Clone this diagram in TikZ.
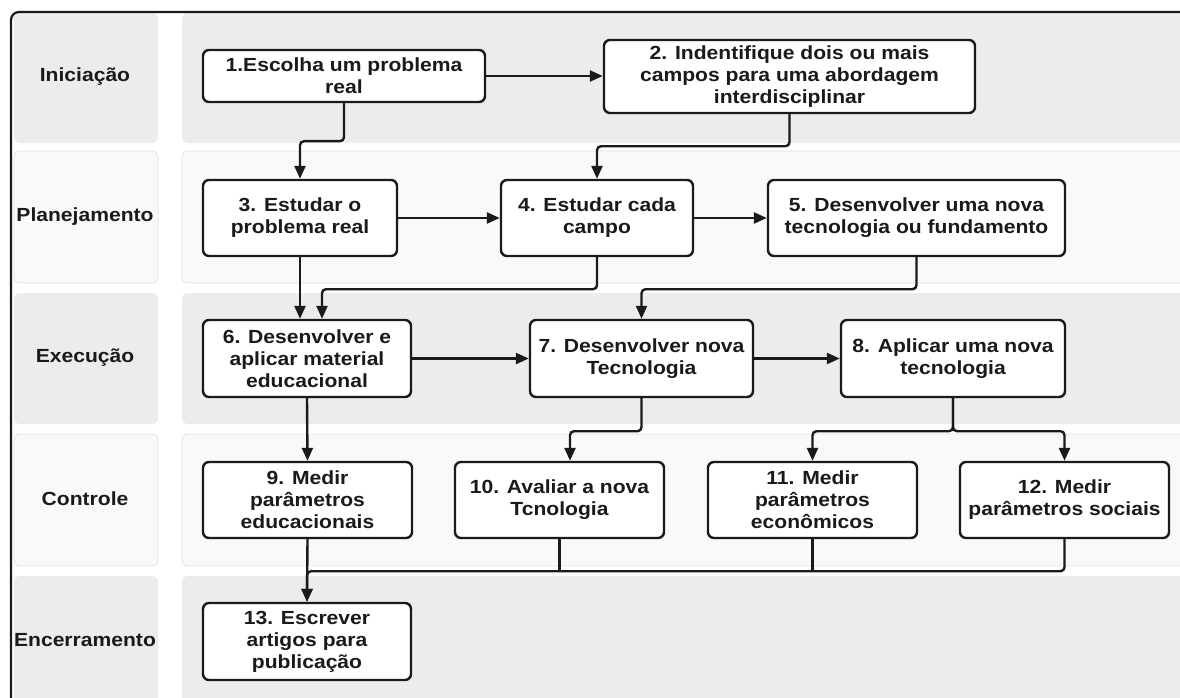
\documentclass[tikz,border=0pt]{standalone}
\usepackage{fontspec}
\setmainfont{Liberation Sans}[FakeStretch=1.11]
\usetikzlibrary{arrows.meta}

\definecolor{laneDark}{HTML}{ECECEC}
\definecolor{laneLight}{HTML}{F9F9F9}
\definecolor{laneEdge}{HTML}{E2E2E2}
\definecolor{ink}{HTML}{1A1A1A}

\tikzset{
  txt/.style={font=\fontsize{19}{22}\selectfont\bfseries, text=ink, align=center, inner sep=0pt},
  stepbox/.style={txt, draw=ink, fill=white, line width=2.4pt, rounded corners=6pt},
  lanelabel/.style={txt},
  darklane/.style={fill=laneDark, rounded corners=6pt},
  lightlane/.style={fill=laneLight, draw=laneEdge, line width=0.8pt, rounded corners=6pt},
  link/.style={draw=ink, line width=2.4pt, rounded corners=4pt},
  arr/.style={link, -{Triangle[length=13pt,width=11pt]}},
  frame/.style={draw=ink, line width=2.2pt, rounded corners=8pt}
}

\begin{document}
\begin{tikzpicture}[x=1pt, y=-1pt]
\useasboundingbox (0,0) rectangle (1180,698);
\clip (0,0) rectangle (1180,698);
\fill[white] (0,0) rectangle (1180,698);

% swimlane backgrounds: label column and working area
\fill[darklane]  (14,13)  rectangle (158,143);
\fill[darklane]  (182,13) rectangle (1195,143);
\filldraw[lightlane] (14,151)  rectangle (158,283);
\filldraw[lightlane] (182,151) rectangle (1195,283);
\fill[darklane]  (14,293)  rectangle (158,424);
\fill[darklane]  (182,293) rectangle (1195,424);
\filldraw[lightlane] (14,434)  rectangle (158,566);
\filldraw[lightlane] (182,434) rectangle (1195,566);
\fill[darklane]  (14,576)  rectangle (158,720);
\fill[darklane]  (182,576) rectangle (1195,720);

% outer frame
\draw[frame] (11,12) rectangle (1190,720);

% lane titles
\node[lanelabel] (l1) at (85,77)  {Iniciação};
\node[lanelabel] (l2) at (85,217) {Planejamento};
\node[lanelabel] (l3) at (85,358) {Execução};
\node[lanelabel] (l4) at (85,499) {Controle};
\node[lanelabel] (l5) at (85,640) {Encerramento};

% steps
\node[stepbox, minimum width=282pt, minimum height=52pt] (n1) at (344,76)
  {1.Escolha um problema\\real};
\node[stepbox, minimum width=371pt, minimum height=73pt] (n2) at (789.5,76.5)
  {2. Indentifique dois ou mais\\campos para uma abordagem\\interdisciplinar};
\node[stepbox, minimum width=194pt, minimum height=76pt] (n3) at (300,218)
  {3. Estudar o\\problema real};
\node[stepbox, minimum width=192pt, minimum height=76pt] (n4) at (597,218)
  {4. Estudar cada\\campo};
\node[stepbox, minimum width=297pt, minimum height=76pt] (n5) at (916.5,218)
  {5. Desenvolver uma nova\\tecnologia ou fundamento};
\node[stepbox, minimum width=208pt, minimum height=77pt] (n6) at (307,358.5)
  {6. Desenvolver e\\aplicar material\\educacional};
\node[stepbox, minimum width=223pt, minimum height=77pt] (n7) at (641.5,358.5)
  {7. Desenvolver nova\\Tecnologia};
\node[stepbox, minimum width=224pt, minimum height=77pt] (n8) at (953,358.5)
  {8. Aplicar uma nova\\tecnologia};
\node[stepbox, minimum width=209pt, minimum height=76pt] (n9) at (307.5,500)
  {9. Medir\\parâmetros\\educacionais};
\node[stepbox, minimum width=209pt, minimum height=76pt] (n10) at (559.5,500)
  {10. Avaliar a nova\\Tcnologia};
\node[stepbox, minimum width=209pt, minimum height=76pt] (n11) at (812.5,500)
  {11. Medir\\parâmetros\\econômicos};
\node[stepbox, minimum width=209pt, minimum height=76pt] (n12) at (1064.5,500)
  {12. Medir\\parâmetros sociais};
\node[stepbox, minimum width=208pt, minimum height=77pt] (n13) at (307,641.5)
  {13. Escrever\\artigos para\\publicação};

% connectors
\draw[arr] (n1.east) -- (n2.west |- n1.east);
\draw[arr] (n1.south) -- ++(0,38) -| (n3.north);
\draw[arr] (n2.south) -- ++(0,32) -| (n4.north);
\draw[arr] (n3.east) -- (n4.west);
\draw[arr] (n4.east) -- (n5.west);
\draw[arr] (n3.south) -- (n3.south |- n6.north);
\draw[arr] (n4.south) -- ++(0,32) -| ([xshift=15pt]n6.north);
\draw[arr] (n5.south) -- ++(0,32) -| (n7.north);
\draw[arr] (n6.east) -- (n7.west);
\draw[arr] (n7.east) -- (n8.west);
\draw[arr] (n6.south) -- (n9.north);
\draw[arr] (n7.south) -- ++(0,33) -| ([xshift=10.5pt]n10.north);
\draw[arr] (n8.south) -- ++(0,33) -| (n11.north);
\draw[arr] (n8.south) -- ++(0,33) -| (n12.north);
\draw[arr] (n9.south) -- (n13.north);
\draw[arr] (n12.south) -- ++(0,32) -| (n13.north);
\draw[link] (n10.south) -- ++(0,32);
\draw[link] (n11.south) -- ++(0,32);
\end{tikzpicture}
\end{document}
